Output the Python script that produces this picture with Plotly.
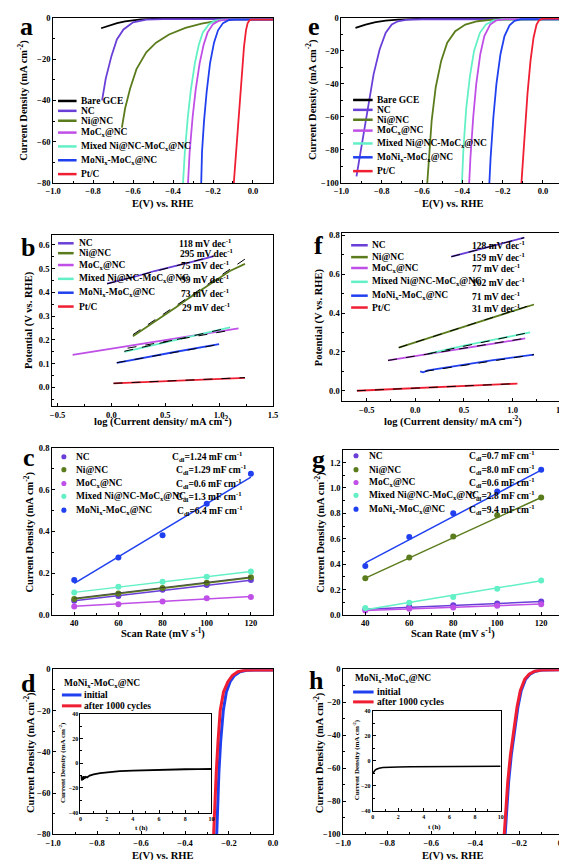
import plotly.graph_objects as go

W, H = 567, 860
FONT = "Liberation Serif"

C_BARE = "#000000"
C_NC = "#6a3fd8"
C_NI = "#5b7c1c"
C_MOC = "#bf4fe6"
C_MIX = "#63f0c6"
C_MONI = "#2040f0"
C_PT = "#f01e32"

# ---------------- Panel a (LSV, 1st medium) ----------------
a_bare_x = [-0.76, -0.72, -0.68, -0.64, -0.60, -0.56, -0.50, 0.10]
a_bare_y = [-5.0, -3.6, -2.5, -1.7, -1.1, -0.7, -0.5, -0.5]
a_nc_x = [-0.755, -0.737, -0.708, -0.681, -0.648, -0.60, -0.534, -0.45, 0.10]
a_nc_y = [-40.0, -29.5, -18.4, -10.4, -5.6, -2.1, -0.8, -0.6, -0.6]
a_ni_x = [-0.656, -0.640, -0.615, -0.583, -0.534, -0.485, -0.42, -0.338, -0.257, -0.159, -0.10, 0.10]
a_ni_y = [-53.2, -43.9, -34.3, -24.8, -16.7, -12.0, -8.0, -4.8, -2.7, -1.1, -0.8, -0.8]
a_moc_x = [-0.325, -0.317, -0.302, -0.287, -0.267, -0.247, -0.227, -0.20, -0.17, -0.13, 0.10]
a_moc_y = [-80.0, -65.0, -48.0, -35.0, -22.0, -13.0, -7.0, -3.0, -1.3, -0.8, -0.8]
a_mix_x = [-0.350, -0.341, -0.326, -0.311, -0.291, -0.271, -0.251, -0.22, -0.19, -0.15, 0.10]
a_mix_y = [-80.0, -65.0, -48.0, -35.0, -22.0, -13.0, -7.0, -3.0, -1.3, -0.8, -0.8]
a_moni_x = [-0.259, -0.255, -0.245, -0.232, -0.215, -0.195, -0.175, -0.15, -0.12, -0.09, 0.10]
a_moni_y = [-80.0, -65.0, -50.0, -36.0, -22.0, -12.0, -6.0, -2.5, -1.0, -0.8, -0.8]
a_pt_x = [-0.096, -0.085, -0.07, -0.056, -0.045, -0.035, -0.027, -0.018, -0.008, 0.10]
a_pt_y = [-80.0, -65.0, -48.0, -30.0, -14.0, -6.0, -2.6, -1.2, -0.8, -0.8]

# ---------------- Panel e (LSV, 2nd medium) ----------------
e_bare_x = [-0.93, -0.88, -0.83, -0.78, -0.72, -0.65, -0.55, 0.10]
e_bare_y = [-6.0, -4.0, -2.6, -1.6, -1.0, -0.6, -0.3, -0.3]
e_nc_x = [-0.925, -0.90, -0.87, -0.84, -0.81, -0.78, -0.75, -0.72, -0.68, -0.60, 0.10]
e_nc_y = [-96.0, -78.0, -55.0, -34.0, -19.0, -9.0, -4.0, -2.0, -1.2, -0.8, -0.8]
e_ni_x = [-0.574, -0.566, -0.552, -0.532, -0.505, -0.475, -0.435, -0.385, -0.325, -0.25, 0.10]
e_ni_y = [-100.0, -85.0, -62.0, -42.0, -26.0, -15.0, -8.0, -4.0, -2.0, -1.0, -0.8]
e_mix_x = [-0.402, -0.395, -0.381, -0.362, -0.342, -0.313, -0.283, -0.245, -0.20, 0.10]
e_mix_y = [-100.0, -80.0, -55.0, -35.0, -20.0, -9.0, -4.0, -1.5, -0.8, -0.8]
e_moc_x = [-0.366, -0.360, -0.346, -0.331, -0.311, -0.291, -0.262, -0.232, -0.19, 0.10]
e_moc_y = [-100.0, -85.0, -60.0, -40.0, -22.0, -11.0, -4.0, -1.5, -0.7, -0.7]
e_moni_x = [-0.266, -0.260, -0.246, -0.231, -0.211, -0.191, -0.166, -0.141, -0.11, 0.10]
e_moni_y = [-100.0, -85.0, -60.0, -40.0, -22.0, -11.0, -4.5, -1.8, -0.8, -0.8]
e_pt_x = [-0.107, -0.092, -0.077, -0.062, -0.047, -0.032, -0.02, -0.005, 0.02, 0.10]
e_pt_y = [-100.0, -72.0, -46.0, -26.0, -12.0, -4.0, -1.5, -0.6, -0.4, -0.4]

# ---------------- Panel b (Tafel, 1st medium) ----------------
b_nc_x = [-0.04, 0.10, 0.25, 0.40, 0.55, 0.70, 0.85, 0.95]
b_nc_y = [0.437, 0.452, 0.470, 0.490, 0.505, 0.523, 0.540, 0.553]
b_ni_x = [0.20, 0.30, 0.40, 0.50, 0.60, 0.70, 0.80, 0.90, 1.00, 1.10, 1.24]
b_ni_y = [0.215, 0.245, 0.277, 0.308, 0.337, 0.370, 0.400, 0.430, 0.460, 0.490, 0.520]
b_moc_x = [-0.36, 0.00, 0.40, 0.80, 1.18]
b_moc_y = [0.137, 0.163, 0.192, 0.222, 0.248]
b_mix_x = [0.12, 0.40, 0.70, 1.10]
b_mix_y = [0.150, 0.180, 0.210, 0.253]
b_moni_x = [0.05, 0.30, 0.60, 1.00]
b_moni_y = [0.103, 0.125, 0.150, 0.182]
b_pt_x = [0.02, 0.40, 0.80, 1.24]
b_pt_y = [0.017, 0.024, 0.031, 0.040]
b_fit_x = [[-0.04, 0.95], [0.20, 1.24], [0.15, 1.10], [0.12, 1.10], [0.05, 1.00], [0.02, 1.24]]
b_fit_y = [[0.436, 0.553], [0.222, 0.540], [0.165, 0.240], [0.152, 0.252], [0.104, 0.181], [0.017, 0.041]]
b_names = ["NC", "Ni@NC", "MoC<sub>x</sub>@NC", "Mixed Ni@NC-MoC<sub>x</sub>@NC",
           "MoNi<sub>x</sub>-MoC<sub>x</sub>@NC", "Pt/C"]
b_slopes = ["118 mV dec<sup>-1</sup>", "295 mV dec<sup>-1</sup>", "75 mV dec<sup>-1</sup>",
            "99 mV dec<sup>-1</sup>", "73 mV dec<sup>-1</sup>", "29 mV dec<sup>-1</sup>"]

# ---------------- Panel f (Tafel, 2nd medium) ----------------
f_nc_x = [0.37, 0.60, 0.85, 1.12]
f_nc_y = [0.690, 0.720, 0.753, 0.788]
f_ni_x = [-0.17, 0.20, 0.60, 1.00, 1.22]
f_ni_y = [0.222, 0.280, 0.345, 0.410, 0.444]
f_moc_x = [-0.28, 0.10, 0.50, 0.90, 1.13]
f_moc_y = [0.156, 0.185, 0.217, 0.250, 0.270]
f_mix_x = [0.13, 0.50, 0.90, 1.18]
f_mix_y = [0.190, 0.232, 0.272, 0.300]
f_moni_x = [0.05, 0.08, 0.13, 0.40, 0.80, 1.22]
f_moni_y = [0.100, 0.095, 0.105, 0.127, 0.158, 0.186]
f_pt_x = [-0.60, -0.20, 0.30, 0.70, 1.05]
f_pt_y = [0.000, 0.009, 0.020, 0.029, 0.037]
f_fit_x = [[0.37, 1.12], [-0.17, 1.22], [-0.28, 1.13], [0.13, 1.18], [0.10, 1.22], [-0.60, 1.05]]
f_fit_y = [[0.690, 0.788], [0.222, 0.446], [0.156, 0.270], [0.190, 0.301], [0.100, 0.186], [0.000, 0.037]]
f_slopes = ["128 mV dec<sup>-1</sup>", "159 mV dec<sup>-1</sup>", "77 mV dec<sup>-1</sup>",
            "102 mV dec<sup>-1</sup>", "71 mV dec<sup>-1</sup>", "31 mV dec<sup>-1</sup>"]

# ---------------- Panel c / g (Cdl) ----------------
scan_rate = [40, 60, 80, 100, 120]
fit_x = [40, 120]
c_nc = [0.068, 0.091, 0.120, 0.143, 0.167]
c_ni = [0.076, 0.103, 0.129, 0.154, 0.180]
c_moc = [0.040, 0.051, 0.064, 0.080, 0.086]
c_mix = [0.107, 0.135, 0.159, 0.183, 0.208]
c_moni = [0.167, 0.275, 0.382, 0.533, 0.676]
c_fit = [[0.068, 0.166], [0.076, 0.178], [0.041, 0.088], [0.108, 0.208], [0.151, 0.660]]
c_cdl = ["C<sub>dl</sub>=1.24 mF cm<sup>-1</sup>", "C<sub>dl</sub>=1.29 mF cm<sup>-1</sup>",
         "C<sub>dl</sub>=0.6 mF cm<sup>-1</sup>", "C<sub>dl</sub>=1.3 mF cm<sup>-1</sup>",
         "C<sub>dl</sub>=6.4 mF cm<sup>-1</sup>"]
g_nc = [0.044, 0.065, 0.077, 0.090, 0.106]
g_ni = [0.289, 0.452, 0.617, 0.785, 0.924]
g_moc = [0.034, 0.049, 0.059, 0.072, 0.085]
g_mix = [0.054, 0.095, 0.142, 0.206, 0.271]
g_moni = [0.385, 0.614, 0.800, 0.973, 1.143]
g_fit = [[0.045, 0.105], [0.290, 0.925], [0.034, 0.086], [0.040, 0.270], [0.410, 1.140]]
g_cdl = ["C<sub>dl</sub>=0.7 mF cm<sup>-1</sup>", "C<sub>dl</sub>=8.0 mF cm<sup>-1</sup>",
         "C<sub>dl</sub>=0.6 mF cm<sup>-1</sup>", "C<sub>dl</sub>=2.8 mF cm<sup>-1</sup>",
         "C<sub>dl</sub>=9.4 mF cm<sup>-1</sup>"]
cg_names = ["NC", "Ni@NC", "MoC<sub>x</sub>@NC", "Mixed Ni@NC-MoC<sub>x</sub>@NC",
            "MoNi<sub>x</sub>-MoC<sub>x</sub>@NC"]

# ---------------- Panel d / h (stability) ----------------
d_init_x = [-0.256, -0.252, -0.246, -0.238, -0.226, -0.212, -0.195, -0.175, -0.15, -0.12, -0.08, 0.0]
d_init_y = [-80.0, -65.0, -50.0, -35.0, -20.0, -11.0, -6.0, -3.0, -1.2, -0.5, -0.3, -0.3]
d_after_x = [-0.270, -0.265, -0.258, -0.250, -0.240, -0.225, -0.205, -0.185, -0.16, -0.13, -0.09, 0.0]
d_after_y = [-80.0, -65.0, -50.0, -35.0, -20.0, -11.0, -6.0, -3.0, -1.2, -0.5, -0.3, -0.3]
d_t = [0.05, 0.1, 0.15, 0.2, 0.25, 0.3, 0.4, 0.5, 0.7, 1.0, 1.5, 2.0, 3.0, 4.0, 5.0, 6.0, 7.0, 8.0, 9.0, 10.0]
d_j = [-10.0, -14.0, -11.0, -13.5, -10.5, -12.5, -11.0, -11.5, -10.0, -9.0, -8.0, -7.3, -6.5, -6.0, -5.6, -5.3, -5.1, -4.9, -4.8, -4.7]
h_init_x = [-0.264, -0.258, -0.248, -0.236, -0.221, -0.206, -0.191, -0.171, -0.151, -0.126, -0.096, 0.0]
h_init_y = [-100.0, -85.0, -68.0, -52.0, -36.0, -23.0, -13.0, -6.0, -3.0, -1.2, -0.5, -0.3]
h_after_x = [-0.268, -0.262, -0.252, -0.240, -0.225, -0.210, -0.195, -0.175, -0.155, -0.130, -0.100, 0.0]
h_after_y = [-100.0, -85.0, -68.0, -52.0, -36.0, -23.0, -13.0, -6.0, -3.0, -1.2, -0.5, -0.3]
h_t = [0.02, 0.1, 0.2, 0.3, 0.5, 0.8, 1.2, 2.0, 3.0, 4.0, 5.0, 6.0, 7.0, 8.0, 9.0, 10.0]
h_j = [-10.0, -8.5, -7.5, -6.8, -6.0, -5.5, -5.2, -5.0, -4.8, -4.7, -4.6, -4.6, -4.5, -4.5, -4.5, -4.5]

lsv_names = ["Bare GCE", "NC", "Ni@NC", "MoC<sub>x</sub>@NC", "Mixed Ni@NC-MoC<sub>x</sub>@NC",
             "MoNi<sub>x</sub>-MoC<sub>x</sub>@NC", "Pt/C"]
lsv_colors = [C_BARE, C_NC, C_NI, C_MOC, C_MIX, C_MONI, C_PT]
five_colors = [C_NC, C_NI, C_MOC, C_MIX, C_MONI]
six_colors = [C_NC, C_NI, C_MOC, C_MIX, C_MONI, C_PT]


def px(x):
    return x / W


def py(y):
    return 1 - y / H


fig = go.Figure()


def line(x, y, color, ax, width=1.6, dash=None):
    fig.add_trace(go.Scatter(x=x, y=y, mode="lines", line=dict(color=color, width=width, dash=dash),
                             xaxis="x" + ax, yaxis="y" + ax, showlegend=False, hoverinfo="skip"))


def pts(x, y, color, ax):
    fig.add_trace(go.Scatter(x=x, y=y, mode="markers", marker=dict(color=color, size=6),
                             xaxis="x" + ax, yaxis="y" + ax, showlegend=False, hoverinfo="skip"))


# a
for xs, ys, c in zip([a_bare_x, a_nc_x, a_ni_x, a_mix_x, a_moc_x, a_moni_x, a_pt_x],
                     [a_bare_y, a_nc_y, a_ni_y, a_mix_y, a_moc_y, a_moni_y, a_pt_y],
                     [C_BARE, C_NC, C_NI, C_MIX, C_MOC, C_MONI, C_PT]):
    line(xs, ys, c, "", 1.8)
# e
for xs, ys, c in zip([e_bare_x, e_nc_x, e_ni_x, e_mix_x, e_moc_x, e_moni_x, e_pt_x],
                     [e_bare_y, e_nc_y, e_ni_y, e_mix_y, e_moc_y, e_moni_y, e_pt_y],
                     [C_BARE, C_NC, C_NI, C_MIX, C_MOC, C_MONI, C_PT]):
    line(xs, ys, c, "2", 1.8)
# b
for xs, ys, c in zip([b_nc_x, b_ni_x, b_moc_x, b_mix_x, b_moni_x, b_pt_x],
                     [b_nc_y, b_ni_y, b_moc_y, b_mix_y, b_moni_y, b_pt_y], six_colors):
    line(xs, ys, c, "3", 1.8)
for xs, ys in zip(b_fit_x, b_fit_y):
    line(xs, ys, "black", "3", 1.0, "dash")
# f
for xs, ys, c in zip([f_nc_x, f_ni_x, f_moc_x, f_mix_x, f_moni_x, f_pt_x],
                     [f_nc_y, f_ni_y, f_moc_y, f_mix_y, f_moni_y, f_pt_y], six_colors):
    line(xs, ys, c, "4", 1.8)
for xs, ys in zip(f_fit_x, f_fit_y):
    line(xs, ys, "black", "4", 1.0, "dash")
# c
for ys, fy, c in zip([c_nc, c_ni, c_moc, c_mix, c_moni], c_fit, five_colors):
    line(fit_x, fy, c, "5", 1.5)
    pts(scan_rate, ys, c, "5")
line(fit_x, [c_fit[1][0] + 0.004, c_fit[1][1] + 0.004], "#333333", "5", 0.8)
# g
for ys, fy, c in zip([g_nc, g_ni, g_moc, g_mix, g_moni], g_fit, five_colors):
    line(fit_x, fy, c, "6", 1.5)
    pts(scan_rate, ys, c, "6")
# d
line(d_init_x, d_init_y, C_MONI, "7", 3)
line(d_after_x, d_after_y, C_PT, "7", 3)
line(d_t, d_j, "black", "9", 1.8)
# h
line(h_init_x, h_init_y, C_MONI, "8", 3)
line(h_after_x, h_after_y, C_PT, "8", 3)
line(h_t, h_j, "black", "10", 1.6)


def axis(x0, x1, rng, dtick, anchor, fmt=None, minor=None, size=8, tick0=None):
    d = dict(domain=[x0, x1], range=rng, anchor=anchor, showline=True, linecolor="black",
             linewidth=1, mirror=True, ticks="inside", ticklen=3, tickwidth=1, tickcolor="black",
             dtick=dtick, showgrid=False, zeroline=False,
             tickfont=dict(family=FONT, size=size, color="black", weight="bold"))
    if tick0 is not None:
        d["tick0"] = tick0
    if fmt:
        d["tickformat"] = fmt
    if minor:
        d["minor"] = dict(ticks="inside", ticklen=2, dtick=minor, tickcolor="black", showgrid=False)
    return d


boxes = {
    "": (38, 263, 5, 172),
    "2": (333, 560, 5, 172),
    "3": (37, 263, 225, 398),
    "4": (334, 561, 223, 393),
    "5": (37, 263, 440, 609),
    "6": (335, 560, 442, 609),
    "7": (38, 263, 664, 831),
    "8": (335, 560, 664, 831),
    "9": (66, 200, 709, 809),
    "10": (365, 496, 706, 807),
}
TS = 8.5
xspec = {
    "": ([-1.0, 0.1], 0.2, ".1f", 0.1, TS),
    "2": ([-1.0, 0.1], 0.2, ".1f", 0.1, TS),
    "3": ([-0.55, 1.5], 0.5, ".1f", 0.25, TS),
    "4": ([-0.75, 1.53], 0.5, ".1f", 0.25, TS),
    "5": ([30, 130], 20, None, 10, TS),
    "6": ([30, 130], 20, None, 10, TS),
    "7": ([-1.0, 0.0], 0.2, ".1f", 0.1, TS),
    "8": ([-1.0, 0.0], 0.2, ".1f", 0.1, TS),
    "9": ([0, 10], 2, None, 1, 6),
    "10": ([0, 10], 2, None, 1, 6),
}
yspec = {
    "": ([-80, 0], 20, None, 10, TS),
    "2": ([-100, 0], 20, None, 10, TS),
    "3": ([-0.08, 0.64], 0.1, ".1f", 0.05, TS),
    "4": ([-0.055, 0.81], 0.2, ".1f", 0.1, TS),
    "5": ([0, 0.8], 0.2, ".1f", 0.1, TS),
    "6": ([0, 1.3], 0.2, ".1f", 0.1, TS),
    "7": ([-80, 0], 20, None, 10, TS),
    "8": ([-100, 0], 20, None, 10, TS),
    "9": ([-40, 40], 20, None, 10, 6),
    "10": ([-40, 40], 20, None, 10, 6),
}
layout_axes = {}
for k, (l, r, t, b) in boxes.items():
    xr, xd, xf, xm, xs = xspec[k]
    yr, yd, yf, ym, ys = yspec[k]
    xa = axis(px(l), px(r), xr, xd, "y" + k, xf, xm, xs, tick0=0)
    ya = axis(py(b), py(t), yr, yd, "x" + k, yf, ym, ys, tick0=0)
    layout_axes["xaxis" + k] = xa
    layout_axes["yaxis" + k] = ya
fig.update_layout(**layout_axes)

ann = []
shapes = []


def text(x, y, s, size=9, anchor="left", angle=0):
    ann.append(dict(x=px(x), y=py(y), xref="paper", yref="paper", text="<b>" + s + "</b>",
                    showarrow=False, xanchor=anchor, yanchor="middle", textangle=angle,
                    font=dict(family=FONT, size=size, color="black")))


def seg(x0, x1, y, color, width=2.5):
    shapes.append(dict(type="line", xref="paper", yref="paper", x0=px(x0), x1=px(x1),
                       y0=py(y), y1=py(y), line=dict(color=color, width=width)))


def dot(x, y, color, r=2.6):
    shapes.append(dict(type="circle", xref="paper", yref="paper", x0=px(x - r), x1=px(x + r),
                       y0=py(y + r), y1=py(y - r), fillcolor=color, line=dict(color=color, width=0)))


# panel letters
for s, x, y in [("a", 11, 14), ("e", 305, 14), ("b", 12, 237), ("f", 310, 235),
                ("c", 13, 450), ("g", 310, 452), ("d", 13, 678), ("h", 308, 675)]:
    text(x, y, s, 26, "center")

AT = 10.5
LS = 9.5
YT = "Current Density (mA cm<sup>-2</sup>)"
XT = "E(V) vs. RHE"
text(150, 193, XT, AT, "center")
text(7, 88, YT, AT, "center", -90)
text(447, 193, XT, AT, "center")
text(302, 88, YT, AT, "center", -90)
text(150, 413, "log (Current density/ mA cm<sup>-2</sup>)", AT, "center")
text(14, 311, "Potential (V vs. RHE)", AT, "center", -90)
text(447, 413, "log (Current density/ mA cm<sup>-2</sup>)", AT, "center")
text(311, 308, "Potential (V vs. RHE)", AT, "center", -90)
text(150, 627, "Scan Rate (mV s<sup>-1</sup>)", AT, "center")
text(13, 525, YT, AT, "center", -90)
text(447, 627, "Scan Rate (mV s<sup>-1</sup>)", AT, "center")
text(311, 525, YT, AT, "center", -90)
text(150, 853, XT, AT, "center")
text(14, 748, YT, AT, "center", -90)
text(447, 853, XT, AT, "center")
text(310, 748, YT, AT, "center", -90)
# inset titles
text(47, 758, YT, 7, "center", -90)
text(128, 825, "t (h)", 7, "center")
text(348, 756, YT, 7, "center", -90)
text(428, 824, "t (h)", 7, "center")

# legend a
for yy, nm, c in zip([89, 99, 109, 121, 135, 149, 163], lsv_names, lsv_colors):
    seg(43, 62, yy, c)
    text(64, yy, nm, LS)
# legend e
for yy, nm, c in zip([88, 98, 108, 119, 132, 146, 160], lsv_names, lsv_colors):
    seg(345, 365, yy, c)
    text(367, yy, nm, LS)
# legend b
for yy, nm, c, sl, sx in zip([233, 243, 255, 269, 283, 297], b_names, six_colors, b_slopes,
                             [165, 166, 167, 167, 167, 168]):
    seg(43, 59, yy, c)
    text(62, yy, nm, LS)
    text(sx, yy, sl, LS)
# legend f
for yy, nm, c, sl in zip([235, 247, 258, 272, 286, 298], b_names, six_colors, f_slopes):
    seg(343, 360, yy, c)
    text(362, yy, nm, LS)
    text(465, yy, sl, LS)
# legend c
for yy, nm, c, cd, cx in zip([449, 462, 476, 489, 503], cg_names, five_colors, c_cdl,
                             [158, 162, 162, 162, 163]):
    dot(49, yy, c)
    text(59, yy, nm, LS)
    text(cx, yy, cd, LS)
# legend g
for yy, nm, c, cd in zip([448, 462, 475, 488, 502], cg_names, five_colors, g_cdl):
    dot(348, yy, c)
    text(359, yy, nm, LS)
    text(462, yy, cd, LS)
# legend d
text(47, 678, "MoNi<sub>x</sub>-MoC<sub>x</sub>@NC", LS)
seg(47, 67, 690, C_MONI, 3)
text(68, 690, "initial", LS)
seg(47, 67, 701, C_PT, 3)
text(68, 701, "after 1000 cycles", LS)
# legend h
text(345, 673, "MoNi<sub>x</sub>-MoC<sub>x</sub>@NC", LS)
seg(345, 366, 687, C_MONI, 3)
text(367, 687, "initial", LS)
seg(345, 366, 697, C_PT, 3)
text(367, 697, "after 1000 cycles", LS)

fig.update_layout(width=W, height=H, margin=dict(l=0, r=0, t=0, b=0), paper_bgcolor="white",
                  plot_bgcolor="white", showlegend=False, annotations=ann, shapes=shapes,
                  font=dict(family=FONT, color="black"))
fig.write_html("out.html")
